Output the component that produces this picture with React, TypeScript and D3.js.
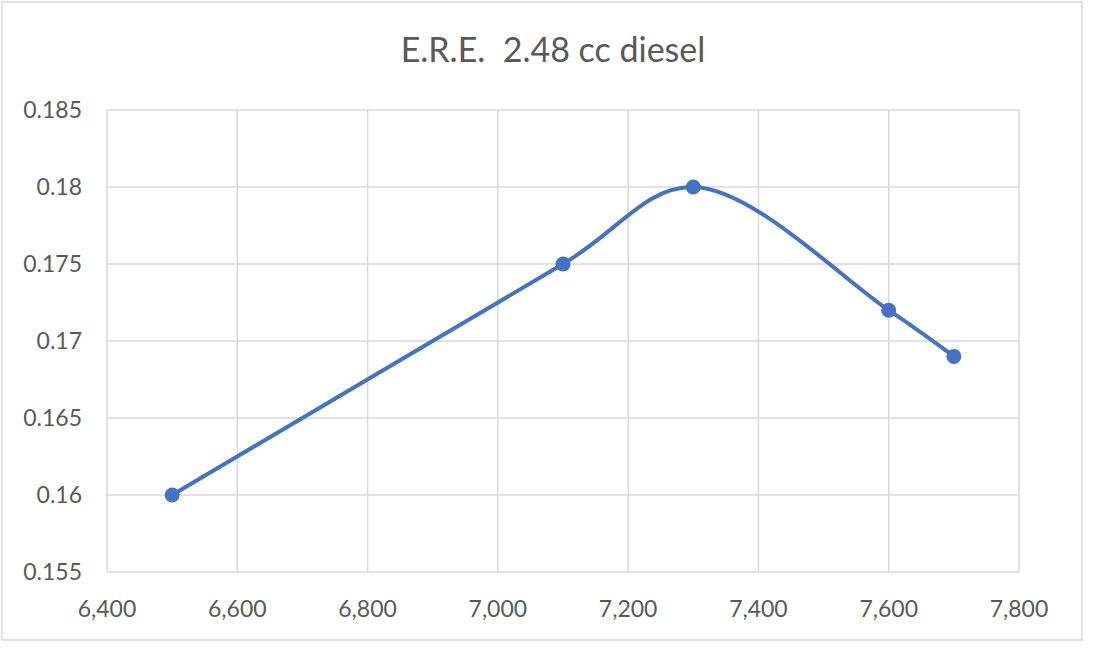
import React, { useEffect, useRef } from 'react';
import * as d3 from 'd3';

const title = 'E.R.E.  2.48 cc diesel';
const rpm = [6500, 7100, 7300, 7600, 7700];
const ere = [0.16, 0.175, 0.18, 0.172, 0.169];
const xTicks = [6400, 6600, 6800, 7000, 7200, 7400, 7600, 7800];
const yTicks = [0.155, 0.16, 0.165, 0.17, 0.175, 0.18, 0.185];

const W = 1100;
const H = 658;
const margin = { top: 110, right: 81, bottom: 86, left: 107 };
const font = 'Lato, "Open Sans", sans-serif';
const textColor = '#595959';
const gridColor = '#D9D9D9';
const lineColor = '#4472C4';

export default function App() {
  const svgRef = useRef<SVGSVGElement>(null);

  useEffect(() => {
    if (!svgRef.current) return;
    const svg = d3.select(svgRef.current);
    svg.selectAll('*').remove();

    const x = d3.scaleLinear().domain([6400, 7800]).range([margin.left, W - margin.right]);
    const y = d3.scaleLinear().domain([0.155, 0.185]).range([H - margin.bottom, margin.top]);

    // chart border
    svg.append('rect')
      .attr('x', 2).attr('y', 2)
      .attr('width', 1080).attr('height', 638)
      .attr('fill', 'white')
      .attr('stroke', gridColor)
      .attr('stroke-width', 1.5);

    // title
    svg.append('text')
      .attr('x', 553).attr('y', 62)
      .attr('text-anchor', 'middle')
      .attr('font-family', font)
      .attr('font-size', 34)
      .attr('fill', textColor)
      .style('white-space', 'pre')
      .text(title);

    // grid
    const grid = svg.append('g').attr('stroke', gridColor).attr('stroke-width', 1.5);
    xTicks.forEach(t => {
      grid.append('line')
        .attr('x1', x(t)).attr('x2', x(t))
        .attr('y1', y(0.155)).attr('y2', y(0.185));
    });
    yTicks.forEach(t => {
      grid.append('line')
        .attr('x1', x(6400)).attr('x2', x(7800))
        .attr('y1', y(t)).attr('y2', y(t));
    });

    // tick labels
    const fmt = d3.format(',');
    svg.append('g').selectAll('text')
      .data(xTicks)
      .join('text')
      .attr('x', d => x(d))
      .attr('y', H - margin.bottom + 45)
      .attr('text-anchor', 'middle')
      .attr('font-family', font)
      .attr('font-size', 23)
      .attr('fill', textColor)
      .text(d => fmt(d));

    svg.append('g').selectAll('text')
      .data(yTicks)
      .join('text')
      .attr('x', 82)
      .attr('y', d => y(d) + 8)
      .attr('text-anchor', 'end')
      .attr('font-family', font)
      .attr('font-size', 23)
      .attr('fill', textColor)
      .text(d => String(d));

    // smoothed line
    const pts = rpm.map((r, i) => [r, ere[i]] as [number, number]);
    const line = d3.line<[number, number]>()
      .x(d => x(d[0]))
      .y(d => y(d[1]))
      .curve(d3.curveCatmullRom.alpha(0.5));

    svg.append('path')
      .datum(pts)
      .attr('d', line)
      .attr('fill', 'none')
      .attr('stroke', lineColor)
      .attr('stroke-width', 4)
      .attr('stroke-linecap', 'round');

    svg.append('g').selectAll('circle')
      .data(pts)
      .join('circle')
      .attr('cx', d => x(d[0]))
      .attr('cy', d => y(d[1]))
      .attr('r', 7.5)
      .attr('fill', lineColor);
  }, []);

  return (
    <svg
      ref={svgRef}
      width={W}
      height={H}
      style={{ position: 'absolute', left: 0, top: 0, background: 'white' }}
    />
  );
}
